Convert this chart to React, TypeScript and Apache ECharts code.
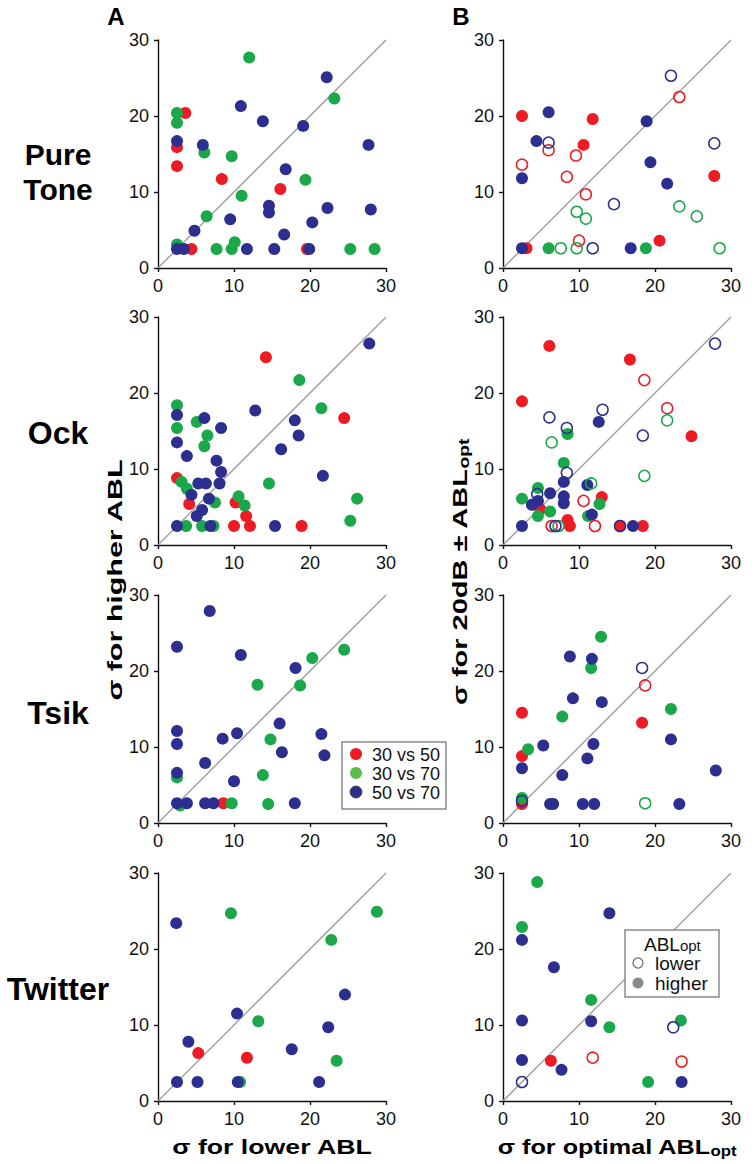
import React, { useEffect, useRef } from 'react';
import * as echarts from 'echarts';

const FONT = '"Liberation Sans", Arial, Helvetica, sans-serif';
const RED = '#ED1C24';
const GREEN = '#1BA84A';
const BLUE = '#2C2F8F';
const LEGEND_GREEN = '#5CBD4A';

const rowNames = [['Pure', 'Tone'], ['Ock'], ['Tsik'], ['Twitter']];
const columnLetters = ['A', 'B'];
const pairLabels = ['30 vs 50', '30 vs 70', '50 vs 70'];
const optTitle = 'ABL';
const optLabels = ['lower', 'higher'];
const axisMin = 0;
const axisMax = 30;
const axisStep = 10;
const yTitleA = 'σ for higher ABL';
const yTitleB = 'σ for 20dB ± ABL';
const xTitleA = 'σ for lower ABL';
const xTitleB = 'σ for optimal ABL';
const subOpt = 'opt';

// ---------- Column A: sigma lower ABL (x) vs sigma higher ABL (y) ----------
const toneA_30v50 = [[2.5, 15.9], [2.5, 13.4], [3.6, 20.4], [8.4, 11.7], [16.1, 10.4], [4.4, 2.5], [19.6, 2.5]];
const toneA_30v70 = [[12, 27.7], [2.5, 20.4], [2.5, 19.1], [23.2, 22.3], [6.1, 15.2], [9.7, 14.7], [19.4, 11.6], [11, 9.5], [6.4, 6.8], [2.5, 3.1], [10.1, 3.4], [7.7, 2.5], [9.7, 2.5], [25.3, 2.5], [28.5, 2.5]];
const toneA_50v70 = [[22.2, 25.1], [10.9, 21.3], [13.8, 19.3], [19.1, 18.7], [2.5, 16.7], [5.9, 16.2], [27.7, 16.2], [16.8, 13], [14.6, 8.2], [14.6, 7.3], [22.3, 7.9], [28, 7.7], [9.5, 6.4], [20.3, 6], [4.8, 4.9], [16.6, 4.4], [2.5, 2.5], [3.4, 2.5], [11.7, 2.5], [15.3, 2.5], [19.9, 2.5]];

const ockA_30v50 = [[14.2, 24.7], [24.5, 16.7], [2.5, 8.8], [4.1, 5.4], [10.2, 5.6], [11.6, 3.8], [10, 2.5], [12.1, 2.5], [18.9, 2.5]];
const ockA_30v70 = [[18.6, 21.7], [21.5, 18], [2.5, 18.4], [2.5, 15.4], [5.1, 16.2], [6.5, 14.4], [6.1, 13], [14.6, 8.1], [3.1, 8.3], [3.8, 7.4], [10.6, 6.4], [11.4, 5.2], [7.5, 5.6], [26.2, 6.1], [25.3, 3.2], [3.7, 2.5], [5.8, 2.5], [7.3, 2.5]];
const ockA_50v70 = [[27.8, 26.5], [12.8, 17.7], [2.5, 17.1], [6.1, 16.7], [2.5, 13.5], [8.3, 15.4], [18, 16.4], [18.5, 14.4], [16.2, 12.6], [3.8, 11.7], [7.7, 11.1], [8.3, 9.6], [8.1, 8.1], [21.7, 9.1], [5.3, 8.1], [6.3, 8.1], [4.4, 6.6], [6.7, 6.1], [5.8, 4.6], [5.1, 3.8], [2.5, 2.5], [6.9, 2.5], [15.4, 2.5]];

const tsikA_30v50 = [[8.6, 2.6]];
const tsikA_30v70 = [[24.5, 22.8], [20.3, 21.7], [13.1, 18.2], [18.7, 18.1], [14.8, 11], [13.8, 6.3], [9.7, 2.6], [14.5, 2.5], [2.5, 6], [2.9, 2.3]];
const tsikA_50v70 = [[6.8, 27.9], [2.5, 23.2], [10.9, 22.1], [18.1, 20.4], [16, 13.1], [2.5, 12.1], [2.5, 10.4], [10.4, 11.8], [8.5, 11.1], [21.5, 11.7], [16.3, 9.3], [21.9, 8.9], [6.2, 7.9], [2.5, 6.6], [10, 5.5], [2.5, 2.6], [3.8, 2.6], [6.2, 2.6], [7.3, 2.6], [18, 2.6]];

const twitA_30v50 = [[5.3, 6.3], [11.7, 5.7]];
const twitA_30v70 = [[9.6, 24.7], [28.8, 24.9], [22.8, 21.2], [13.2, 10.5], [23.5, 5.3], [10.8, 2.5]];
const twitA_50v70 = [[2.4, 23.4], [24.6, 14], [10.4, 11.5], [22.4, 9.7], [4, 7.8], [17.6, 6.8], [2.5, 2.5], [5.2, 2.5], [10.5, 2.5], [21.2, 2.5]];

// ---------- Column B: sigma optimal ABL (x) vs sigma 20 dB +/- (y); hi = filled, lo = open ----------
const toneB_30v50_hi = [[2.5, 20], [11.8, 19.6], [10.6, 16.2], [27.8, 12.1], [20.6, 3.6], [3.1, 2.6]];
const toneB_30v70_hi = [[6, 2.6], [18.8, 2.6]];
const toneB_50v70_hi = [[6, 20.5], [4.4, 16.7], [2.5, 11.8], [18.9, 19.3], [19.4, 13.9], [21.6, 11.1], [2.5, 2.6], [16.8, 2.6]];
const toneB_30v50_lo = [[23.2, 22.5], [6, 15.5], [9.6, 14.8], [2.5, 13.6], [8.4, 12], [10.9, 9.7], [10, 3.6]];
const toneB_30v70_lo = [[9.7, 7.4], [10.9, 6.5], [23.2, 8.1], [25.5, 6.8], [7.6, 2.6], [9.7, 2.6], [28.5, 2.6]];
const toneB_50v70_lo = [[22.1, 25.3], [6, 16.5], [27.8, 16.4], [14.6, 8.4], [11.8, 2.6]];

const ockB_30v50_hi = [[6.1, 26.2], [2.5, 18.9], [16.7, 24.4], [24.8, 14.3], [13, 6.3], [8.5, 3.3], [8.8, 2.5], [15.4, 2.5], [18.4, 2.5], [4.9, 4.7]];
const ockB_30v70_hi = [[8.5, 14.6], [8, 10.8], [4.6, 7.5], [2.5, 6.1], [6.2, 4.4], [4.6, 3.8], [12.7, 5.4], [11.2, 3.8]];
const ockB_50v70_hi = [[12.6, 16.2], [8, 8.3], [11.1, 7.9], [6.2, 6.8], [8, 6.4], [8, 5.5], [3.8, 5.3], [4.6, 5.8], [11.7, 4], [2.5, 2.5], [17.1, 2.5]];
const ockB_30v50_lo = [[18.6, 21.7], [21.6, 18], [10.6, 5.8], [12.1, 2.5], [6.4, 2.5]];
const ockB_30v70_lo = [[21.6, 16.4], [6.4, 13.5], [18.6, 9.1], [11.6, 8.1], [7.3, 2.5]];
const ockB_50v70_lo = [[27.9, 26.5], [13.1, 17.8], [6.1, 16.8], [8.4, 15.4], [18.4, 14.4], [8.4, 9.5], [4.5, 6.7], [6.9, 2.5], [15.4, 2.5]];

const tsikB_30v50_hi = [[2.5, 14.5], [18.3, 13.2], [2.5, 8.8], [2.5, 2.5]];
const tsikB_30v70_hi = [[12.9, 24.5], [11.6, 20.4], [22.1, 15], [7.8, 14], [3.3, 9.7], [2.5, 3.3]];
const tsikB_50v70_hi = [[8.8, 21.9], [11.7, 21.6], [9.2, 16.4], [13, 15.9], [5.3, 10.2], [11.9, 10.4], [11.1, 8.5], [2.5, 7.2], [7.8, 6.3], [22.1, 11], [28, 6.9], [6.2, 2.5], [6.6, 2.5], [10.5, 2.5], [12, 2.5], [23.2, 2.5]];
const tsikB_30v50_lo = [[18.7, 18.1]];
const tsikB_30v70_lo = [[18.7, 2.6]];
const tsikB_50v70_lo = [[18.3, 20.4], [2.5, 2.9]];

const twitB_30v50_hi = [[6.3, 5.3]];
const twitB_30v70_hi = [[4.5, 28.8], [2.5, 22.9], [11.6, 13.3], [14, 9.7], [23.4, 10.6], [19.1, 2.5]];
const twitB_50v70_hi = [[14, 24.7], [2.5, 21.2], [6.7, 17.6], [2.5, 10.6], [11.6, 10.5], [2.5, 5.4], [7.7, 4.1], [23.5, 2.5]];
const twitB_30v50_lo = [[11.8, 5.7], [23.5, 5.2]];
const twitB_30v70_lo: number[][] = [];
const twitB_50v70_lo = [[22.4, 9.7], [2.5, 2.5]];

const panelsA = [
  [toneA_30v50, toneA_30v70, toneA_50v70],
  [ockA_30v50, ockA_30v70, ockA_50v70],
  [tsikA_30v50, tsikA_30v70, tsikA_50v70],
  [twitA_30v50, twitA_30v70, twitA_50v70],
];
const panelsBHi = [
  [toneB_30v50_hi, toneB_30v70_hi, toneB_50v70_hi],
  [ockB_30v50_hi, ockB_30v70_hi, ockB_50v70_hi],
  [tsikB_30v50_hi, tsikB_30v70_hi, tsikB_50v70_hi],
  [twitB_30v50_hi, twitB_30v70_hi, twitB_50v70_hi],
];
const panelsBLo = [
  [toneB_30v50_lo, toneB_30v70_lo, toneB_50v70_lo],
  [ockB_30v50_lo, ockB_30v70_lo, ockB_50v70_lo],
  [tsikB_30v50_lo, tsikB_30v70_lo, tsikB_50v70_lo],
  [twitB_30v50_lo, twitB_30v70_lo, twitB_50v70_lo],
];

const pairColors = [RED, GREEN, BLUE];

// layout
const colLeft = [158, 503];
const rowTop = [40, 317, 595, 873];
const PLOT = 228;

function axisCfg(gridIndex: number) {
  return {
    type: 'value',
    gridIndex,
    min: axisMin,
    max: axisMax,
    interval: axisStep,
    axisLine: { show: true, onZero: false, lineStyle: { color: '#111', width: 1.4 } },
    axisTick: { show: true, inside: false, length: 4, lineStyle: { color: '#111', width: 1.4 } },
    axisLabel: { fontSize: 18, color: '#111', fontFamily: FONT, margin: 9 },
    splitLine: { show: false },
  };
}

function buildOption() {
  const grid: any[] = [];
  const xAxis: any[] = [];
  const yAxis: any[] = [];
  const series: any[] = [];
  for (let r = 0; r < 4; r++) {
    for (let c = 0; c < 2; c++) {
      const idx = grid.length;
      grid.push({ left: colLeft[c], top: rowTop[r], width: PLOT, height: PLOT });
      xAxis.push(axisCfg(idx));
      yAxis.push(axisCfg(idx));
      series.push({
        type: 'line',
        xAxisIndex: idx,
        yAxisIndex: idx,
        data: [[axisMin, axisMin], [axisMax, axisMax]],
        symbol: 'none',
        silent: true,
        lineStyle: { color: '#9a9a9a', width: 1.3 },
        z: 1,
      });
      if (c === 0) {
        panelsA[r].forEach((d, k) => {
          series.push({
            type: 'scatter', xAxisIndex: idx, yAxisIndex: idx, data: d,
            symbolSize: 12, silent: true, z: 2,
            itemStyle: { color: pairColors[k], opacity: 1 },
          });
        });
      } else {
        panelsBHi[r].forEach((d, k) => {
          series.push({
            type: 'scatter', xAxisIndex: idx, yAxisIndex: idx, data: d,
            symbolSize: 12, silent: true, z: 2,
            itemStyle: { color: pairColors[k], opacity: 1 },
          });
        });
        panelsBLo[r].forEach((d, k) => {
          series.push({
            type: 'scatter', xAxisIndex: idx, yAxisIndex: idx, data: d,
            symbolSize: 11, silent: true, z: 3,
            itemStyle: { color: 'rgba(255,255,255,0)', borderColor: pairColors[k], borderWidth: 1.5, opacity: 1 },
          });
        });
      }
    }
  }

  const bold = (size: number) => ({ fontSize: size, fontWeight: 'bold', fontFamily: FONT, fill: '#000' });
  const mid = { align: 'center', verticalAlign: 'middle', textAlign: 'center', textVerticalAlign: 'middle' };
  const graphic: any[] = [];

  // column letters
  columnLetters.forEach((t, i) => {
    graphic.push({
      type: 'text', x: [116, 461][i], y: 16, z: 20,
      style: { text: t, ...bold(24), ...mid },
    });
  });

  // row titles (one text per line)
  const rowCenters = [172, 433, 713, 989];
  rowNames.forEach((lines, i) => {
    const n = lines.length;
    lines.forEach((t, j) => {
      graphic.push({
        type: 'text', x: 58, y: rowCenters[i] + (j - (n - 1) / 2) * 35, z: 20,
        style: { text: t, ...bold(n > 1 ? 30 : 32), ...mid },
      });
    });
  });

  // axis titles
  graphic.push({
    type: 'text', x: 115, y: 580, rotation: Math.PI / 2, scaleX: 1.45, z: 20,
    style: { text: yTitleA, ...bold(21), ...mid },
  });
  graphic.push({
    type: 'text', x: 460, y: 572, rotation: Math.PI / 2, scaleX: 1.38, z: 20,
    style: {
      text: `{m|${yTitleB}}{s|${subOpt}}`,
      ...mid,
      rich: {
        m: { ...bold(21) },
        s: { ...bold(14), padding: [9, 0, 0, 0] },
      },
    },
  });
  graphic.push({
    type: 'text', x: 272, y: 1147, scaleX: 1.27, z: 20,
    style: { text: xTitleA, ...bold(21), ...mid },
  });
  graphic.push({
    type: 'text', x: 617, y: 1147, scaleX: 1.2, z: 20,
    style: {
      text: `{m|${xTitleB}}{s|${subOpt}}`,
      ...mid,
      rich: {
        m: { ...bold(21) },
        s: { ...bold(14), padding: [9, 0, 0, 0] },
      },
    },
  });

  // legend A (in Tsik A panel)
  graphic.push({
    type: 'rect', z: 30, shape: { x: 342, y: 742, width: 104, height: 67 },
    style: { fill: '#fff', stroke: '#8a8a8a', lineWidth: 1.5 },
  });
  const legColors = [RED, LEGEND_GREEN, BLUE];
  pairLabels.forEach((t, i) => {
    const cy = 754 + i * 19;
    graphic.push({
      type: 'circle', z: 31, shape: { cx: 356, cy, r: 6 },
      style: { fill: legColors[i], stroke: i === 2 ? '#444' : null, lineWidth: 0.8 },
    });
    graphic.push({
      type: 'text', z: 31, x: 372, y: cy + 1,
      style: { text: t, fontSize: 18, fontFamily: FONT, fill: '#111', align: 'left', verticalAlign: 'middle', textAlign: 'left', textVerticalAlign: 'middle' },
    });
  });

  // legend B (in Twitter B panel)
  graphic.push({
    type: 'rect', z: 30, shape: { x: 625, y: 930, width: 94, height: 67 },
    style: { fill: '#fff', stroke: '#8a8a8a', lineWidth: 1.5 },
  });
  graphic.push({
    type: 'text', z: 31, x: 644, y: 944,
    style: {
      text: `{m|${optTitle}}{s|${subOpt}}`,
      align: 'left', verticalAlign: 'middle', textAlign: 'left', textVerticalAlign: 'middle',
      rich: {
        m: { fontSize: 19, fontFamily: FONT, fill: '#111' },
        s: { fontSize: 15, fontFamily: FONT, fill: '#111', padding: [3, 0, 0, 0] },
      },
    },
  });
  graphic.push({
    type: 'circle', z: 31, shape: { cx: 638, cy: 963, r: 5 },
    style: { fill: '#fff', stroke: '#777', lineWidth: 1.3 },
  });
  graphic.push({
    type: 'circle', z: 31, shape: { cx: 638, cy: 983, r: 5.5 },
    style: { fill: '#8a8a8a' },
  });
  optLabels.forEach((t, i) => {
    graphic.push({
      type: 'text', z: 31, x: 655, y: 963 + i * 20,
      style: { text: t, fontSize: 19, fontFamily: FONT, fill: '#111', align: 'left', verticalAlign: 'middle', textAlign: 'left', textVerticalAlign: 'middle' },
    });
  });

  return {
    animation: false,
    backgroundColor: '#ffffff',
    textStyle: { fontFamily: FONT },
    grid,
    xAxis,
    yAxis,
    series,
    graphic,
  };
}

export default function App() {
  const ref = useRef<HTMLDivElement>(null);
  useEffect(() => {
    if (!ref.current) return;
    const chart = echarts.init(ref.current, undefined, { renderer: 'svg' });
    chart.setOption(buildOption() as any);
    return () => chart.dispose();
  }, []);
  return (
    <div
      ref={ref}
      style={{ position: 'absolute', left: 0, top: 0, width: 756, height: 1164, background: '#fff' }}
    />
  );
}
